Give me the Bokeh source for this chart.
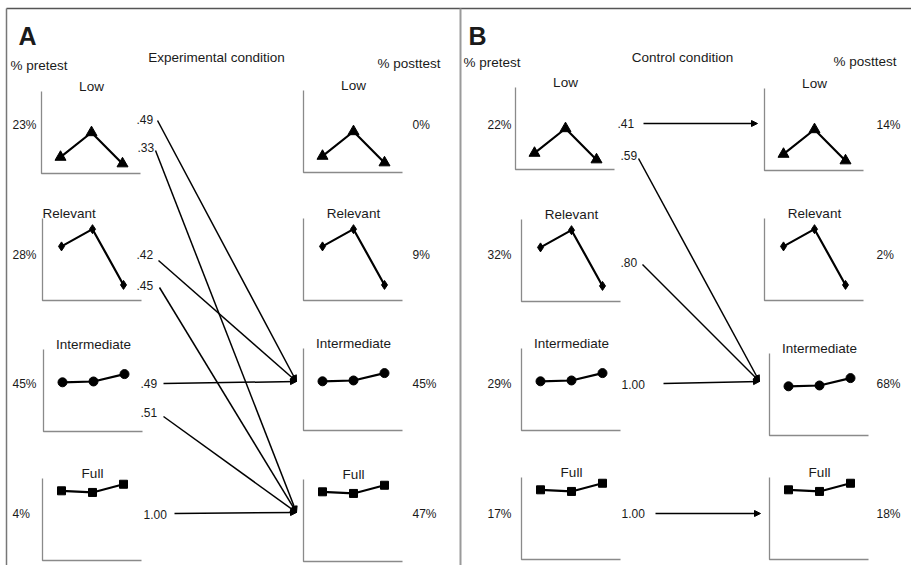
from bokeh.plotting import figure
from bokeh.models import Range1d, Arrow, NormalHead, ColumnDataSource
from bokeh.core.properties import value
from bokeh.embed import file_html
from bokeh.resources import INLINE

# ---------------- data ----------------
categories = ["Low", "Relevant", "Intermediate", "Full"]
markers = ["triangle", "diamond", "circle", "square"]
# profile of each strategy group over the three measurement points (% of scale)
profile_low = [20, 50, 12]
profile_relevant = [66, 87, 19]
profile_intermediate = [60, 61, 70]
profile_full = [85, 83, 93]
profiles = [profile_low, profile_relevant, profile_intermediate, profile_full]

pre_pct_A = [23, 28, 45, 4]
post_pct_A = [0, 9, 45, 47]
pre_pct_B = [22, 32, 29, 17]
post_pct_B = [14, 2, 68, 18]

trans_from_A = ["Low", "Low", "Relevant", "Relevant", "Intermediate", "Intermediate", "Full"]
trans_to_A = ["Intermediate", "Full", "Intermediate", "Full", "Intermediate", "Full", "Full"]
trans_prob_A = [0.49, 0.33, 0.42, 0.45, 0.49, 0.51, 1.00]

trans_from_B = ["Low", "Low", "Relevant", "Intermediate", "Full"]
trans_to_B = ["Low", "Intermediate", "Intermediate", "Intermediate", "Full"]
trans_prob_B = [0.41, 0.59, 0.80, 1.00, 1.00]

# ---------------- layout ----------------
FONT = value("Liberation Sans")
W, H = 911, 565
CH_W, CH_H = 99, 82
PT_DX = [19, 50, 81]
MK_SIZE = [11, 9, 9, 8]
ROW_Y = [124, 254, 383, 513]
AXIS_COLOR = "#8a8a8a"
TEXT_COLOR = "#1a1a1a"

p = figure(width=W, height=H, x_range=Range1d(0, W), y_range=Range1d(H, 0),
           output_backend="svg", toolbar_location=None, min_border=0,
           x_axis_location=None, y_axis_location=None)
p.grid.visible = False
p.outline_line_color = None
p.background_fill_color = "white"
p.border_fill_color = "white"


def txt(x, y, s, size="13.5px", align="left", baseline="alphabetic", bold=False):
    p.text(x=[x], y=[y], text=[s], text_font=FONT, text_font_size=size,
           text_align=align, text_baseline=baseline, text_color=TEXT_COLOR,
           text_font_style="bold" if bold else "normal")


def mini_chart(ax_x, ax_top, ci, left_title=False):
    bottom = ax_top + CH_H
    p.line([ax_x, ax_x, ax_x + CH_W], [ax_top, bottom, bottom],
           line_color=AXIS_COLOR, line_width=1.3)
    xs = [ax_x + d for d in PT_DX]
    ys = [bottom - v / 100 * CH_H for v in profiles[ci]]
    p.line(xs, ys, line_color="black", line_width=2.2)
    p.scatter(xs, ys, marker=markers[ci], size=MK_SIZE[ci], color="black")
    if left_title:
        txt(ax_x, ax_top - 5, categories[ci], align="left")
    else:
        txt(ax_x + 50, ax_top - 5, categories[ci], align="center")


def fmt(v):
    return "1.00" if v >= 1 else ("%.2f" % v)[1:]


def column(xs, tops, pcts, pct_x, left_title_idx=None):
    for i in range(4):
        mini_chart(xs[i], tops[i], i, left_title=(i == left_title_idx))
        txt(pct_x, ROW_Y[i], "%d%%" % pcts[i], size="12px", baseline="middle")


def transitions(froms, tos, probs, label_pos, starts, targets):
    p.text(x=[l[0] for l in label_pos], y=[l[1] for l in label_pos],
           text=[fmt(v) for v in probs], text_font=FONT, text_font_size="12px",
           text_baseline="middle", text_align="left", text_color=TEXT_COLOR)
    src = ColumnDataSource(dict(
        x0=[s[0] for s in starts], y0=[s[1] for s in starts],
        x1=[targets[t][0] for t in tos], y1=[targets[t][1] for t in tos]))
    p.add_layout(Arrow(source=src, x_start="x0", y_start="y0", x_end="x1", y_end="y1",
                       line_color="black", line_width=1.5,
                       end=NormalHead(size=6, fill_color="black", line_color="black",
                                      line_width=1)))


# frame lines
p.line([6, 911], [8, 8], line_color="#555555", line_width=1.5)
p.line([6, 6], [8, 565], line_color="#777777", line_width=1.5)
p.line([460, 460], [8, 565], line_color="#9a9a9a", line_width=2)

# ---- Panel A ----
txt(18, 35, "A", size="25px", bold=True)
txt(10, 65, "% pretest")
txt(216, 57, "Experimental condition", align="center")
txt(377, 63, "% posttest")
column([41, 42, 43, 42], [91, 218, 349, 478], pre_pct_A, 12, left_title_idx=1)
column([303, 303, 303, 303], [90, 218, 348, 479], post_pct_A, 412)
transitions(trans_from_A, trans_to_A, trans_prob_A,
            label_pos=[(136, 119), (137, 147), (136, 254), (136, 285), (140, 383), (140, 412), (143, 514)],
            starts=[(157, 120), (155, 150), (158, 260), (159, 287), (163, 383), (163, 416), (174, 513)],
            targets={"Intermediate": (296, 381), "Full": (296, 512)})

# ---- Panel B ----
txt(468, 35, "B", size="25px", bold=True)
txt(463, 62, "% pretest")
txt(682, 57, "Control condition", align="center")
txt(833, 61, "% posttest")
column([515, 521, 521, 521], [87, 219, 348, 477], pre_pct_B, 487)
column([764, 764, 769, 769], [88, 218, 353, 477], post_pct_B, 876)
transitions(trans_from_B, trans_to_B, trans_prob_B,
            label_pos=[(617, 123), (620, 155), (620, 262), (621, 384), (621, 513)],
            starts=[(643, 123), (638, 158), (642, 264), (663, 383), (655, 513)],
            targets={"Low": (757, 123), "Intermediate": (759, 381), "Full": (760, 513)})

open("out.html", "w").write(file_html(p, INLINE))
